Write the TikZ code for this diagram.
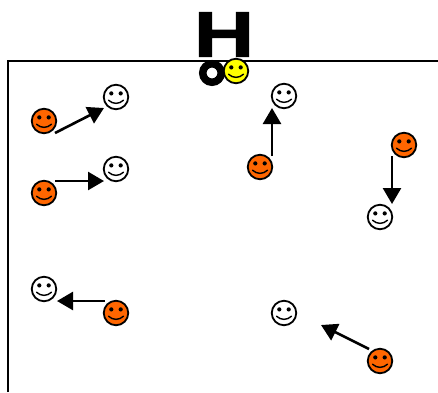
\documentclass[tikz,border=0pt]{standalone}
\usepackage{fontspec}
\setmainfont{Liberation Sans}
\newfontfamily\heavyfont[FakeBold=1.6]{Liberation Sans Bold}
\usetikzlibrary{arrows.meta}
\definecolor{facered}{RGB}{255,102,0}
\definecolor{faceyellow}{RGB}{255,255,0}
\tikzset{
  facebase/.style={circle,draw=black,line width=1.8pt,minimum size=24.5pt,inner sep=0pt,outer sep=0pt},
  orangeface/.style={facebase,fill=facered},
  whiteface/.style={facebase,fill=white},
  yellowface/.style={facebase,fill=faceyellow},
  ringnode/.style={circle,draw=black,line width=7.5pt,fill=white,minimum size=18.5pt,inner sep=0pt,outer sep=0pt},
  moveline/.style={draw=black,line width=2.6pt,-{Triangle[length=16pt,width=18pt]},shorten >=0pt},
  frameline/.style={draw=black,line width=2pt},
  bigletter/.style={font=\fontsize{64pt}{64pt}\heavyfont,inner sep=0pt,outer sep=0pt,xscale=1.3,transform shape}
}
% #1 name, #2 style, #3 position
\newcommand{\smileyat}[3]{%
  \node[#2] (#1) at (#3) {};
  \fill ([shift={(-4.7,-3.6)}]#1.center) circle (2.1pt);
  \fill ([shift={(4.7,-3.6)}]#1.center) circle (2.1pt);
  \draw[line width=1.4pt,line cap=round] ([shift={(-7.5,3.2)}]#1.center) .. controls ([shift={(-3,7.4)}]#1.center) and ([shift={(3,7.4)}]#1.center) .. ([shift={(7.5,3.2)}]#1.center);
}
\begin{document}
\begin{tikzpicture}[x=1pt,y=-1pt]
\useasboundingbox (0,0) rectangle (438,392);
\draw[frameline] (8,392) -- (8,60.5) -- (438,60.5);
\node[bigletter] (letter) at (224,34.5) {H};
\node[ringnode] (ring) at (212,73) {};
\smileyat{yellow}{yellowface}{236,71}
\smileyat{oa}{orangeface}{44,121}
\smileyat{ob}{orangeface}{44,193}
\smileyat{oc}{orangeface}{116,313}
\smileyat{od}{orangeface}{260,167}
\smileyat{oe}{orangeface}{404,145}
\smileyat{of}{orangeface}{380,361}
\smileyat{wa}{whiteface}{116,97}
\smileyat{wb}{whiteface}{116,169}
\smileyat{wc}{whiteface}{44,289}
\smileyat{wd}{whiteface}{284,96}
\smileyat{we}{whiteface}{380,217}
\smileyat{wf}{whiteface}{284,313}
\coordinate (as) at (55,133); \coordinate (ae) at (104,108);
\coordinate (bs) at (55,181); \coordinate (be) at (104,181);
\coordinate (cs) at (105,301); \coordinate (ce) at (57,301);
\coordinate (ds) at (272,156); \coordinate (de) at (272,108);
\coordinate (es) at (392,156); \coordinate (ee) at (392,204);
\coordinate (fs) at (369,349); \coordinate (fe) at (321,325);
\draw[moveline] (as) -- (ae);
\draw[moveline] (bs) -- (be);
\draw[moveline] (cs) -- (ce);
\draw[moveline] (ds) -- (de);
\draw[moveline] (es) -- (ee);
\draw[moveline] (fs) -- (fe);
\end{tikzpicture}
\end{document}
